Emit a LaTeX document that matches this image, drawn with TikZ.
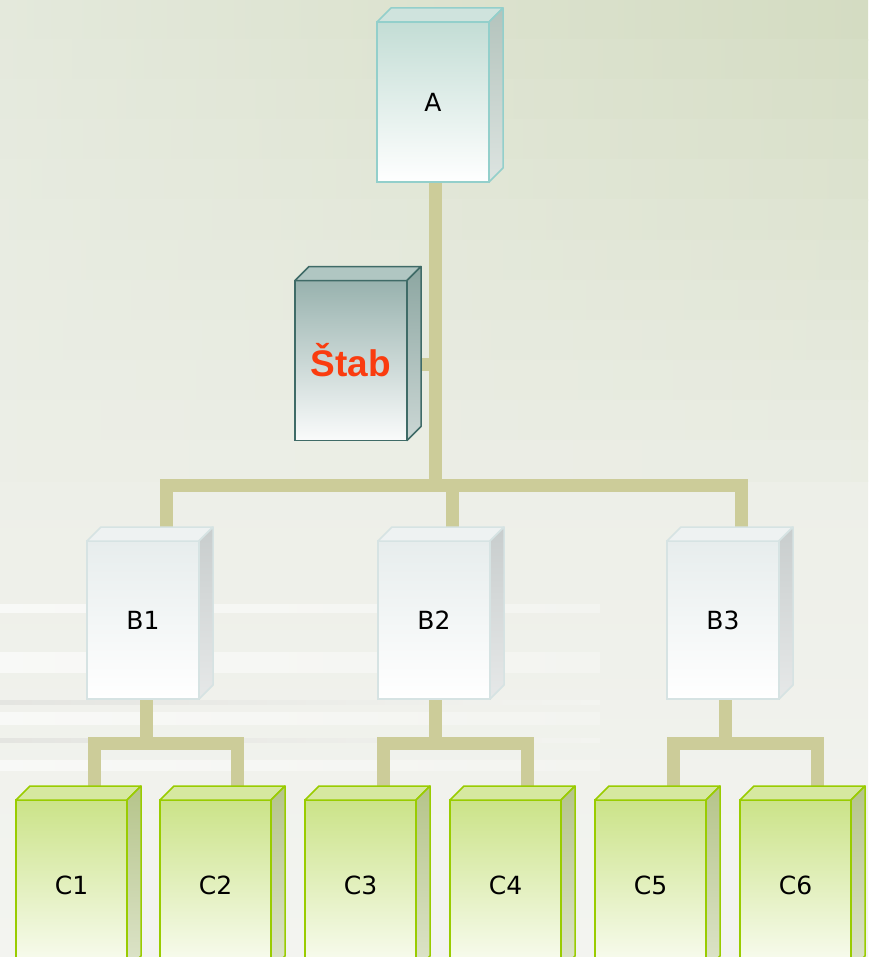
\documentclass[tikz,border=0pt]{standalone}
\usepackage{fontspec}
\setmainfont{DejaVu Sans}
\newfontfamily\stabfont{Liberation Sans}

\definecolor{bgtl}{HTML}{E4E9DC}
\definecolor{bgtr}{HTML}{D4DCC2}
\definecolor{bgmid}{HTML}{EDEFE8}
\definecolor{bgbot}{HTML}{F3F4F0}
\definecolor{streakw}{HTML}{FFFFFF}
\definecolor{streakg}{HTML}{D2D2CE}
\definecolor{linkcol}{HTML}{CCCC99}
\definecolor{Aline}{HTML}{93CFCB}
\definecolor{Afront}{HTML}{C3DDD5}
\definecolor{Atop}{HTML}{CFE3DD}
\definecolor{Aside}{HTML}{B3C3BC}
\definecolor{Sline}{HTML}{3F6B67}
\definecolor{Sfront}{HTML}{98B2AE}
\definecolor{Stop}{HTML}{B0C6C2}
\definecolor{Sside}{HTML}{8CA6A1}
\definecolor{stabred}{HTML}{FA3C0F}
\definecolor{Bline}{HTML}{D6E3E3}
\definecolor{Bfront}{HTML}{E7EDED}
\definecolor{Btop}{HTML}{EEF2F2}
\definecolor{Bside}{HTML}{C8CDCD}
\definecolor{Cline}{HTML}{99CC00}
\definecolor{Cfront}{HTML}{CBE388}
\definecolor{Ctop}{HTML}{D6E8A0}
\definecolor{Cside}{HTML}{B5C48A}

\pgfdeclarelayer{canvas}
\pgfdeclarelayer{links}
\pgfsetlayers{canvas,links,main}

% depth faces of a box: node, line, top face, side face
\newcommand{\cuboid}[4]{%
  \filldraw[draw=#2, fill=#3, line width=0.75pt, line join=round]
    (#1.north west) -- ([shift={(14,-14)}]#1.north west)
    -- ([shift={(14,-14)}]#1.north east) -- (#1.north east) -- cycle;
  \filldraw[draw=#2, top color=#4, bottom color=#4!45!white, line width=0.75pt, line join=round]
    (#1.north east) -- ([shift={(14,-14)}]#1.north east)
    -- ([shift={(14,-14)}]#1.south east) -- (#1.south east) -- cycle;
}

\begin{document}
\begin{tikzpicture}[x=0.5pt,y=-0.5pt,
  box/.style={rectangle, minimum width=56pt, minimum height=80pt, inner sep=0pt,
    outer sep=0pt, line width=0.75pt, font=\fontsize{12.5}{15}\selectfont},
  boxA/.style={box, draw=Aline, top color=Afront, bottom color=white},
  boxS/.style={box, draw=Sline, top color=Sfront, bottom color=white!95!Sfront},
  boxB/.style={box, minimum height=79pt, draw=Bline, top color=Bfront, bottom color=white},
  boxC/.style={box, minimum width=55.5pt, minimum height=85pt, draw=Cline,
    top color=Cfront, bottom color=white!90!Cfront},
  link/.style={draw=linkcol, line width=6.5pt}]

\useasboundingbox (0,0) rectangle (868,957);

% background
\begin{pgfonlayer}{canvas}
  \fill[top color=bgmid, bottom color=bgbot] (0,480) rectangle (868,957);
  \foreach \k in {0,...,11} {
    \pgfmathtruncatemacro{\p}{100-\k*8}
    \fill[left color=bgtl!\p!bgmid, right color=bgtr!\p!bgmid] (0,\k*40) rectangle (868,\k*40+41);
  }
  \foreach \y/\h/\c in {604/8/streakw, 652/20/streakw, 700/4/streakg, 712/12/streakw,
                        738/4/streakg, 760/10/streakw} {
    \fill[left color=\c!45!bgbot, right color=bgbot] (0,\y) rectangle (600,\y+\h);
  }
\end{pgfonlayer}

% boxes
\node[boxA] (A) at (433,102) {A};
\node[boxS] (stab) at (351,360.5) {\stabfont\bfseries\fontsize{18.5}{22}\selectfont\color{stabred}Štab};
\foreach \n/\x in {1/143, 2/434, 3/723} {
  \node[boxB] (B\n) at (\x,620) {B\n};
}
\foreach \n/\x in {1/71.5, 2/215.5, 3/360.5, 4/505.5, 5/650.5, 6/795.5} {
  \node[boxC] (C\n) at (\x,885) {C\n};
}

\cuboid{A}{Aline}{Atop}{Aside}
\cuboid{stab}{Sline}{Stop}{Sside}
\foreach \n in {1,2,3} {\cuboid{B\n}{Bline}{Btop}{Bside}}
\foreach \n in {1,...,6} {\cuboid{C\n}{Cline}{Ctop}{Cside}}

% connectors
\begin{pgfonlayer}{links}
  \coordinate (jA) at (435,485);
  \coordinate (jS) at (435,364);
  \draw[link] (A.south -| jA) -- (jA);
  \draw[link] (stab.east |- jS) -- (jS);
  \draw[link] ([xshift=11.5]B1.north) |- (jA) -| ([xshift=9]B3.north);
  \draw[link] ([xshift=9]B2.north) |- (jA);
  \foreach \b/\xb/\ca/\cb in {1/146.5/1/2, 2/435.5/3/4, 3/725/5/6} {
    \coordinate (jB\b) at (\xb,743.5);
    \draw[link] (B\b.south -| jB\b) -- (jB\b);
    \draw[link] ([xshift=11.5]C\ca.north) |- (jB\b) -| ([xshift=11]C\cb.north);
  }
\end{pgfonlayer}

\end{tikzpicture}
\end{document}
